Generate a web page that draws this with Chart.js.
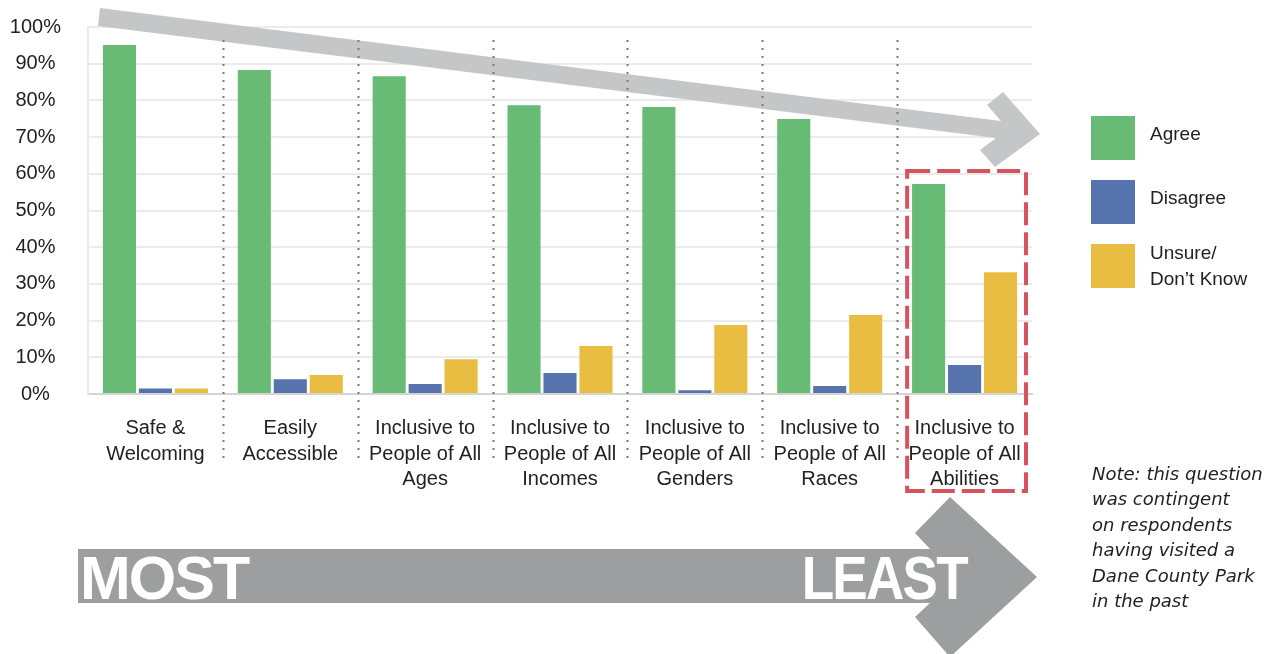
<!DOCTYPE html>
<html>
<head>
<meta charset="utf-8">
<script src="https://cdn.jsdelivr.net/npm/chart.js@4.4.1/dist/chart.umd.min.js"></script>
<style>
  html, body { margin: 0; padding: 0; background: #fff; overflow: hidden; }
  #wrap { position: relative; width: 1264px; height: 654px; overflow: hidden; }
  #chart { position: absolute; left: 0; top: 0; }
  .legend { position: absolute; left: 1091px; top: 116px; font-family: "Liberation Sans", Arial, sans-serif; font-size: 19px; color: #222; }
  .legend .row { display: flex; align-items: center; height: 44px; margin-bottom: 20px; }
  .legend .box { width: 44px; height: 44px; flex: none; }
  .legend .txt { margin-left: 15px; width: 112px; line-height: 26px; position: relative; }
  .legend .txt.one { top: -4px; }
  .note { position: absolute; left: 1092px; top: 461px; font-family: "DejaVu Sans", sans-serif; font-style: italic; font-size: 18px; line-height: 25.4px; color: #222; white-space: nowrap; }
  .big { position: absolute; top: 548px; font-family: "Liberation Sans", Arial, sans-serif; font-weight: bold; font-size: 61px; line-height: 61px; color: #fff; letter-spacing: -2px; }
</style>
</head>
<body>
<div id="wrap">
  <canvas id="chart" width="1264" height="654"></canvas>
  <div class="legend" id="legend"></div>
  <div class="note">Note: this question<br>was contingent<br>on respondents<br>having visited a<br>Dane County Park<br>in the past</div>
  <div class="big" style="left:80px">MOST</div>
  <div class="big" style="right:297px; transform:scaleX(0.87); transform-origin:right center">LEAST</div>
</div>
<script>
// Survey data (share of respondents, %)
const categories = [
    ['Safe &', 'Welcoming'],
    ['Easily', 'Accessible'],
    ['Inclusive to', 'People of All', 'Ages'],
    ['Inclusive to', 'People of All', 'Incomes'],
    ['Inclusive to', 'People of All', 'Genders'],
    ['Inclusive to', 'People of All', 'Races'],
    ['Inclusive to', 'People of All', 'Abilities']
];
const seriesNames = ['Agree', 'Disagree', 'Unsure/ Don\u2019t Know'];
const agree    = [95.1, 88.3, 86.6, 78.7, 78.2, 74.9, 57.2];
const disagree = [1.5, 4.0, 2.7, 5.7, 1.0, 2.2, 7.9];
const unsure   = [1.5, 5.2, 9.5, 13.1, 18.8, 21.5, 33.2];
const colors = ['#67bb74', '#5673ad', '#e9bd41'];

// legend
const legendEl = document.getElementById('legend');
seriesNames.forEach((name, i) => {
    const row = document.createElement('div');
    row.className = 'row';
    const cls = name.length > 10 ? 'txt' : 'txt one';
    row.innerHTML = '<div class="box" style="background:' + colors[i] + '"></div><div class="' + cls + '">' + name + '</div>';
    legendEl.appendChild(row);
});

// arrows, dotted separators and the highlight box
const decorations = {
    id: 'decorations',
    afterDatasetsDraw(chart) {
        const ctx = chart.ctx;
        const x = chart.scales.x, y = chart.scales.y;
        const area = chart.chartArea;
        const step = x.getPixelForValue(1) - x.getPixelForValue(0);

        ctx.save();
        // top trend arrow
        ctx.fillStyle = '#c5c6c8';
        ctx.beginPath();
        [[100, 8], [1001, 121], [987, 105], [1003, 92], [1040, 134], [995, 167], [980, 150], [996, 138], [98, 26]]
            .forEach((p, i) => i ? ctx.lineTo(p[0], p[1]) : ctx.moveTo(p[0], p[1]));
        ctx.closePath();
        ctx.fill();

        // dotted separators between categories
        ctx.strokeStyle = '#7a7a7a';
        ctx.lineWidth = 2;
        ctx.setLineDash([2, 6]);
        for (let i = 0; i < categories.length - 1; i++) {
            const px = Math.round(x.getPixelForValue(i) + step / 2) + 0.5;
            ctx.beginPath();
            ctx.moveTo(px, area.top + 13);
            ctx.lineTo(px, area.bottom + 68);
            ctx.stroke();
        }

        // highlight box round the last category
        const last = categories.length - 1;
        const cx = x.getPixelForValue(last);
        ctx.strokeStyle = '#d65360';
        ctx.lineWidth = 4;
        ctx.setLineDash([23, 7]);
        const bx = cx - step / 2 + 10, bw = step - 16;
        const by = y.getPixelForValue(agree[last]) - 13;
        ctx.strokeRect(bx, by, bw, area.bottom + 97 - by);
        ctx.restore();
    },
    afterDraw(chart) {
        const ctx = chart.ctx;
        ctx.save();
        ctx.fillStyle = '#9d9ea0';
        ctx.beginPath();
        [[78, 549], [930, 549], [915, 533], [950, 497], [1037, 577], [950, 657], [915, 617], [930, 603], [78, 603]]
            .forEach((p, i) => i ? ctx.lineTo(p[0], p[1]) : ctx.moveTo(p[0], p[1]));
        ctx.closePath();
        ctx.fill();
        ctx.restore();
    }
};

const ctx = document.getElementById('chart').getContext('2d');
new Chart(ctx, {
    type: 'bar',
    data: {
        labels: categories,
        datasets: [
            { label: seriesNames[0], data: agree, backgroundColor: colors[0] },
            { label: seriesNames[1], data: disagree, backgroundColor: colors[1] },
            { label: seriesNames[2], data: unsure, backgroundColor: colors[2] }
        ]
    },
    options: {
        responsive: false,
        animation: false,
        layout: { padding: { top: 27, right: 232, left: 0, bottom: 0 } },
        datasets: { bar: { categoryPercentage: 0.8, barPercentage: 0.92, borderWidth: 0 } },
        plugins: {
            legend: { display: false },
            tooltip: { enabled: false }
        },
        scales: {
            x: {
                grid: { display: false },
                border: { color: '#d4d4d4', width: 2 },
                ticks: {
                    color: '#222',
                    font: { family: '"Liberation Sans", Arial, sans-serif', size: 20, lineHeight: 1.27 },
                    padding: 14,
                    maxRotation: 0,
                    autoSkip: false
                },
                afterFit(scale) { scale.height = 260; }
            },
            y: {
                min: 0,
                max: 100,
                // tick marks are hidden; their length keeps the labels off the plot
                grid: { color: '#ebebeb', lineWidth: 2, drawTicks: true, tickLength: 27, tickColor: 'rgba(0,0,0,0)' },
                border: { color: '#ebebeb', width: 2 },
                ticks: {
                    stepSize: 10,
                    color: '#222',
                    crossAlign: 'center',
                    padding: 0,
                    font: { family: '"Liberation Sans", Arial, sans-serif', size: 20 },
                    callback: v => v + '%'
                },
                afterFit(scale) { scale.width = 88; }
            }
        }
    },
    plugins: [decorations]
});
</script>
</body>
</html>
